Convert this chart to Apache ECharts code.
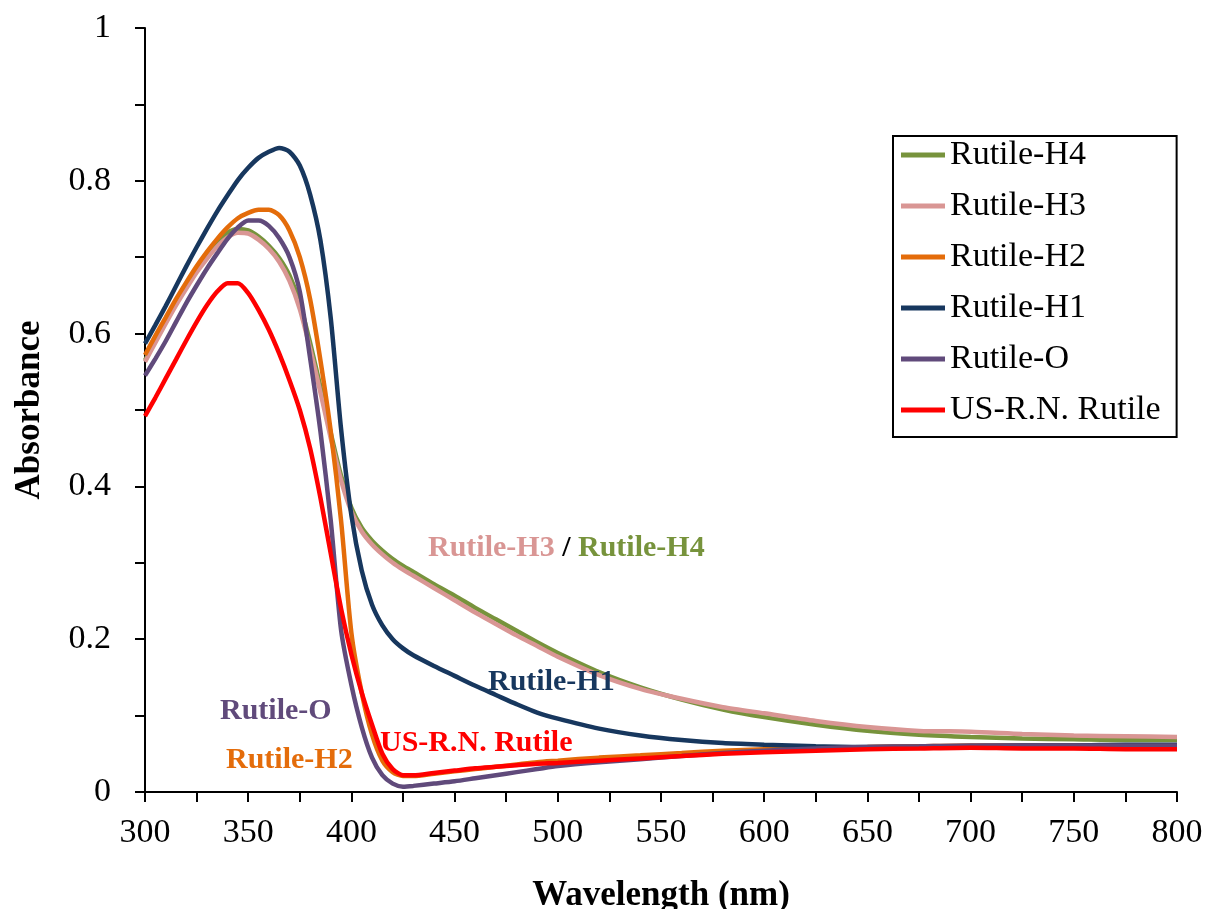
<!DOCTYPE html>
<html>
<head>
<meta charset="utf-8">
<script src="https://cdn.jsdelivr.net/npm/echarts@6/dist/echarts.min.js"></script>
<style>
html, body { margin: 0; padding: 0; background: #fff; }
#chart { width: 1206px; height: 909px; }
</style>
</head>
<body>
<div id="chart"></div>
<script>
// wavelength (nm) sampling shared by all spectra
var wavelength = [300,305,310,315,320,325,330,335,340,345,350,355,360,365,370,375,380,385,390,395,
  400,405,410,415,420,425,430,440,450,460,470,480,490,500,520,540,560,580,600,625,650,675,700,725,750,775,800];

var rutileH4 = [0.565,0.590,0.615,0.639,0.662,0.684,0.703,0.720,0.732,0.737,0.735,0.727,0.715,0.699,0.676,0.640,0.588,0.530,0.470,0.414,
  0.372,0.346,0.329,0.316,0.305,0.296,0.288,0.272,0.257,0.241,0.226,0.211,0.196,0.182,0.157,0.137,0.121,0.108,0.098,0.088,0.080,0.075,0.072,0.070,0.069,0.068,0.068];
var rutileH3 = [0.563,0.588,0.613,0.637,0.659,0.680,0.698,0.714,0.726,0.732,0.731,0.723,0.711,0.694,0.669,0.632,0.580,0.523,0.463,0.408,
  0.367,0.341,0.324,0.311,0.300,0.291,0.283,0.267,0.251,0.235,0.220,0.205,0.191,0.177,0.153,0.135,0.122,0.111,0.103,0.093,0.085,0.080,0.079,0.076,0.074,0.073,0.072];
var rutileH2 = [0.572,0.597,0.621,0.645,0.667,0.688,0.707,0.724,0.739,0.751,0.758,0.762,0.762,0.755,0.735,0.700,0.645,0.565,0.472,0.355,
  0.208,0.130,0.075,0.041,0.026,0.021,0.021,0.024,0.027,0.030,0.033,0.036,0.039,0.041,0.045,0.048,0.051,0.054,0.056,0.058,0.059,0.060,0.061,0.061,0.061,0.061,0.061];
var rutileH1 = [0.587,0.611,0.636,0.662,0.688,0.713,0.737,0.760,0.781,0.801,0.817,0.830,0.838,0.843,0.838,0.820,0.782,0.722,0.620,0.475,
  0.362,0.290,0.245,0.218,0.200,0.188,0.179,0.165,0.152,0.139,0.127,0.115,0.104,0.096,0.083,0.074,0.068,0.064,0.062,0.060,0.059,0.059,0.060,0.061,0.061,0.062,0.062];
var rutileO = [0.545,0.567,0.590,0.615,0.640,0.663,0.685,0.705,0.724,0.739,0.748,0.748,0.741,0.725,0.700,0.655,0.568,0.472,0.355,0.212,
  0.140,0.085,0.045,0.022,0.011,0.007,0.008,0.011,0.014,0.018,0.022,0.026,0.030,0.034,0.039,0.043,0.047,0.051,0.054,0.057,0.059,0.060,0.061,0.061,0.061,0.061,0.061];
var usRnRutile = [0.492,0.516,0.541,0.566,0.591,0.615,0.637,0.655,0.666,0.666,0.653,0.631,0.605,0.574,0.539,0.500,0.450,0.385,0.312,0.240,
  0.180,0.130,0.088,0.050,0.030,0.022,0.022,0.025,0.028,0.031,0.033,0.035,0.037,0.038,0.041,0.044,0.047,0.050,0.052,0.054,0.056,0.057,0.058,0.057,0.057,0.056,0.056];

var seriesNames = ['Rutile-H4','Rutile-H3','Rutile-H2','Rutile-H1','Rutile-O','US-R.N. Rutile'];
var seriesValues = [rutileH4, rutileH3, rutileH2, rutileH1, rutileO, usRnRutile];
var seriesColors = ['#77933C','#D99694','#E46C0A','#17375E','#604A7B','#FF0000'];

var serif = 'Liberation Serif';
var chart = echarts.init(document.getElementById('chart'));

var series = seriesNames.map(function(name, k){
  return {
    name: name,
    type: 'line',
    data: wavelength.map(function(w, i){ return [w, seriesValues[k][i]]; }),
    symbol: 'none',
    smooth: 0.25,
    itemStyle: { color: seriesColors[k] },
    lineStyle: { color: seriesColors[k], width: 4.5 },
    z: 2 + k
  };
});

function note(x, y, text, rich){
  return {
    type: 'text', x: x, y: y, z: 100,
    style: { text: text, rich: rich, fill: '#000', font: 'bold 30px "Liberation Serif"', verticalAlign: 'middle' }
  };
}
var b = function(c){ return { fill: c, font: 'bold 30px "Liberation Serif"' }; };

chart.setOption({
  animation: false,
  backgroundColor: '#fff',
  grid: { left: 145, right: 29, top: 28, bottom: 117, containLabel: false, outerBoundsMode: 'none' },
  xAxis: {
    type: 'value', min: 300, max: 800, interval: 25,
    name: 'Wavelength (nm)', nameLocation: 'middle', nameGap: 86,
    nameTextStyle: { fontFamily: serif, fontWeight: 'bold', fontSize: 35, color: '#000' },
    axisLine: { lineStyle: { color: '#000', width: 2 } },
    axisTick: { inside: false, length: 10, lineStyle: { color: '#000', width: 2 } },
    axisLabel: {
      margin: 24, fontFamily: serif, fontSize: 34, color: '#000',
      formatter: function(v){ return v % 50 === 0 ? String(v) : ''; }
    },
    splitLine: { show: false }
  },
  yAxis: {
    type: 'value', min: 0, max: 1, interval: 0.1,
    name: 'Absorbance', nameLocation: 'middle', nameGap: 98, nameRotate: 90,
    nameTextStyle: { fontFamily: serif, fontWeight: 'bold', fontSize: 35, color: '#000' },
    axisLine: { show: true, lineStyle: { color: '#000', width: 2 } },
    axisTick: { show: true, inside: false, length: 10, lineStyle: { color: '#000', width: 2 } },
    axisLabel: {
      margin: 34, fontFamily: serif, fontSize: 34, color: '#000',
      formatter: function(v){ var t = Math.round(v * 10); return t % 2 === 0 ? String(t / 10) : ''; }
    },
    splitLine: { show: false }
  },
  legend: {
    data: seriesNames,
    orient: 'vertical',
    left: 893, top: 136,
    padding: [2, 16, 10, 8],
    itemGap: 17,
    itemWidth: 44, itemHeight: 5,
    icon: 'rect',
    borderColor: '#000', borderWidth: 2,
    backgroundColor: '#fff',
    textStyle: { fontFamily: serif, fontSize: 34, color: '#000', lineHeight: 34 }
  },
  graphic: [
    note(428, 548, '{h3|Rutile-H3} / {h4|Rutile-H4}', { h3: b('#D99694'), h4: b('#77933C') }),
    note(488, 682, '{c|Rutile-H1}', { c: b('#17375E') }),
    note(220, 711, '{c|Rutile-O}', { c: b('#604A7B') }),
    note(380, 743, '{c|US-R.N. Rutile}', { c: b('#FF0000') }),
    note(226, 760, '{c|Rutile-H2}', { c: b('#E46C0A') })
  ],
  series: series
});
</script>
</body>
</html>
